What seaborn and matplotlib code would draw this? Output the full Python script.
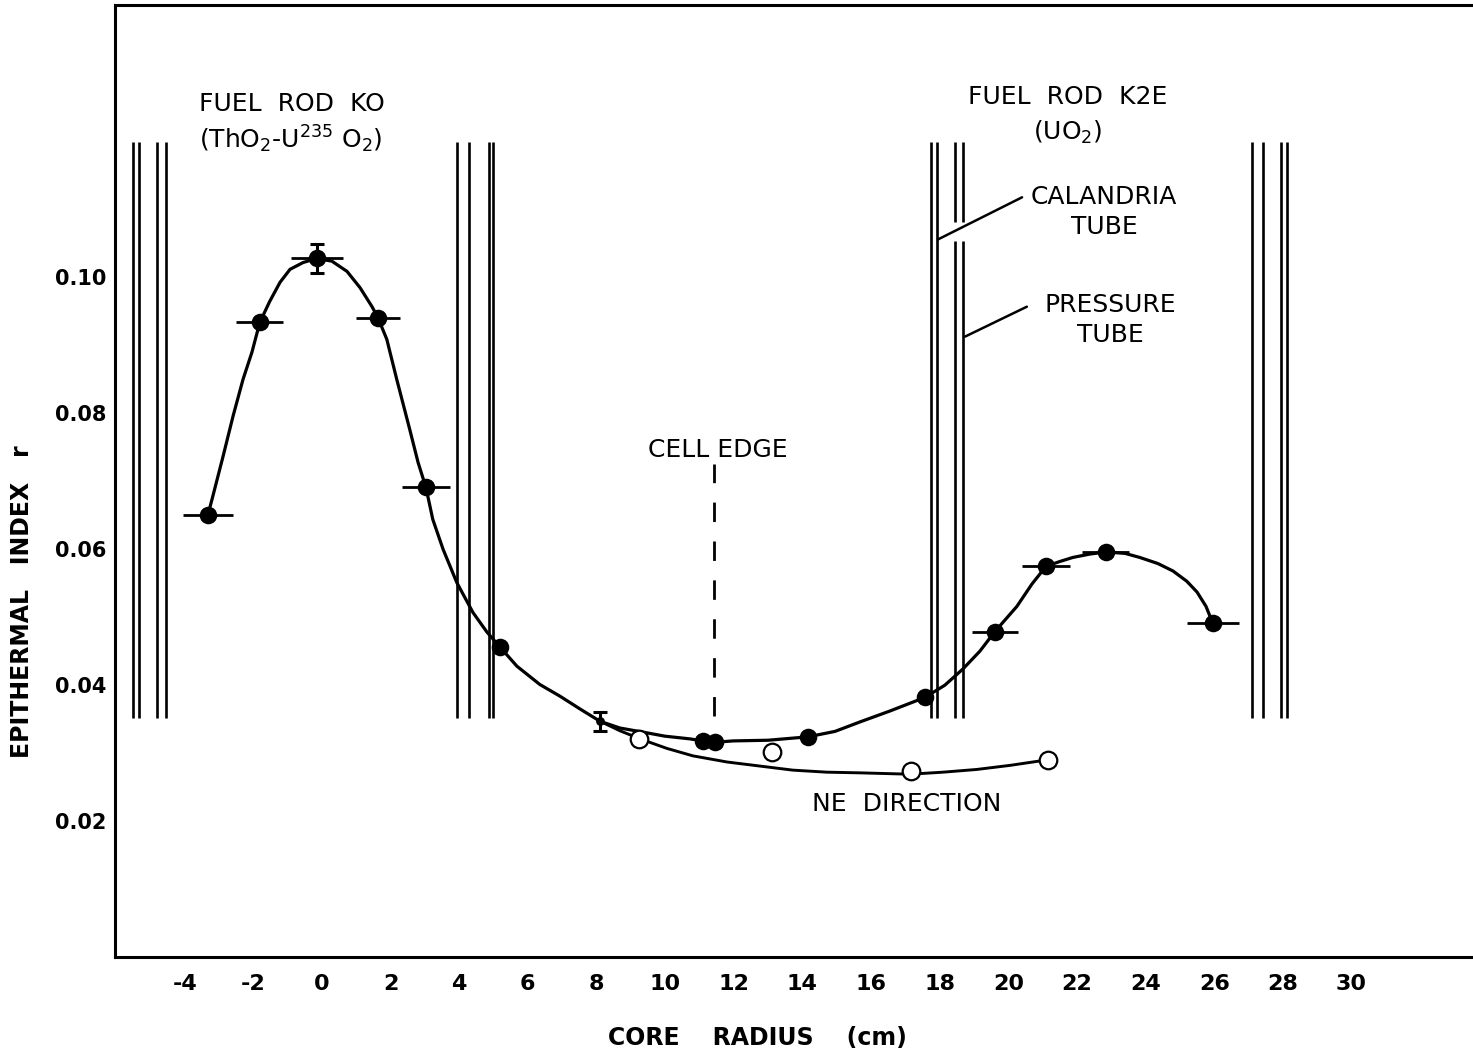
import matplotlib
matplotlib.use("Agg")
import matplotlib.pyplot as plt
import seaborn as sns
import pandas as pd

# ---------------- data ----------------
# filled points (measured, main traverse)
meas_x = [-3.32, -1.81, -0.15, 1.63, 3.03, 5.19, 11.10, 11.45, 14.16, 17.57, 19.61, 21.10, 22.84, 25.96]
meas_y = [0.0651, 0.0934, 0.1028, 0.0941, 0.0691, 0.0456, 0.0318, 0.0316, 0.0324, 0.0382, 0.0479, 0.0575, 0.0596, 0.0491]
# horizontal error bars (half widths, cm)
hbar_x = [-3.32, -1.81, -0.15, 1.63, 3.03, 19.61, 21.10, 22.84, 25.96]
hbar_y = [0.0651, 0.0934, 0.1028, 0.0941, 0.0691, 0.0479, 0.0575, 0.0596, 0.0491]
hbar_err = [0.73, 0.68, 0.75, 0.65, 0.70, 0.67, 0.71, 0.68, 0.75]
# vertical error bars
vbar_x = [-0.15, 8.10]
vbar_y = [0.1028, 0.0347]
vbar_err = [0.0022, 0.0014]
# small point with error bar
small_x = [8.10]
small_y = [0.0347]
# open points (NE direction)
ne_x = [9.24, 13.11, 17.16, 21.15]
ne_y = [0.0321, 0.0301, 0.0274, 0.0290]

curve_x = [-3.32, -3.18, -2.88, -2.59, -2.30, -2.04, -1.81, -1.52, -1.22, -0.93, -0.55, -0.15,
           0.29, 0.73, 1.11, 1.46, 1.63, 1.89, 2.18, 2.56, 2.80, 3.03, 3.23, 3.53, 3.93, 4.40,
           4.81, 5.19, 5.68, 6.35, 6.93, 7.52, 8.10, 8.68, 9.35, 9.99, 10.72, 11.10, 11.45,
           11.98, 13.00, 14.16, 14.95, 15.68, 16.55, 17.57, 18.15, 18.68, 19.17, 19.61, 20.25,
           20.69, 21.10, 21.50, 21.88, 22.38, 22.84, 23.40, 23.83, 24.36, 24.80, 25.20, 25.50,
           25.76, 25.96]
curve_y = [0.0651, 0.0678, 0.0737, 0.0796, 0.0850, 0.0890, 0.0934, 0.0965, 0.0993, 0.1012,
           0.1022, 0.1028, 0.1024, 0.1009, 0.0985, 0.0957, 0.0941, 0.0909, 0.0850, 0.0776,
           0.0728, 0.0691, 0.0644, 0.0600, 0.0551, 0.0507, 0.0478, 0.0456, 0.0428, 0.0401,
           0.0384, 0.0365, 0.0347, 0.0337, 0.0331, 0.0325, 0.0321, 0.0318, 0.0316, 0.0318,
           0.0319, 0.0324, 0.0332, 0.0346, 0.0362, 0.0382, 0.0400, 0.0424, 0.0450, 0.0479,
           0.0516, 0.0549, 0.0575, 0.0582, 0.0588, 0.0593, 0.0596, 0.0594, 0.0588, 0.0579,
           0.0568, 0.0553, 0.0537, 0.0516, 0.0491]
# NE direction curve (traced)
ne_curve_x = [8.10, 8.68, 9.27, 10.05, 10.81, 11.80, 12.76, 13.72, 14.71, 15.68, 17.13, 18.10,
              19.08, 20.05, 21.12]
ne_curve_y = [0.0347, 0.0333, 0.0321, 0.0307, 0.0296, 0.0287, 0.0281, 0.0275, 0.0272, 0.0271,
              0.0269, 0.0272, 0.0276, 0.0282, 0.0290]

# tube walls (radial positions, cm)
tube_walls_ko = [-5.51, -5.33, -4.81, -4.55, 3.93, 4.28, 4.87, 4.98]
tube_walls_k2e_outer = [17.74, 17.92, 27.10, 27.42, 27.94, 28.12]
tube_walls_k2e_inner = [18.44, 18.68]
tube_bottom, tube_top = 0.0351, 0.1200
gap_low, gap_high = 0.1053, 0.1082

cell_edge_x = 11.42

x_ticks = list(range(-4, 31, 2))
x_tick_labels = [str(v) for v in x_ticks]
y_ticks = [0.01, 0.02, 0.03, 0.04, 0.05, 0.06, 0.07, 0.08, 0.09, 0.10, 0.11]
y_tick_labels = ["", "0.02", "", "0.04", "", "0.06", "", "0.08", "", "0.10", ""]

# ---------------- figure ----------------
sns.set_style("white")
plt.rcParams["font.family"] = ["DejaVu Sans"]
plt.rcParams["mathtext.default"] = "regular"
plt.rcParams["text.color"] = "black"
plt.rcParams["axes.labelcolor"] = "black"
plt.rcParams["xtick.color"] = "black"
plt.rcParams["ytick.color"] = "black"

fig = plt.figure(figsize=(14.73, 10.54), dpi=100)
ax = fig.add_axes([115 / 1473, 97 / 1054, 1 - 115 / 1473, (957 - 5) / 1054])
ax.set_xlim(-6.03, 33.54)
ax.set_ylim(0.0, 0.1401)

lw_tube = 1.9
for xv in tube_walls_ko + tube_walls_k2e_outer:
    ax.plot([xv, xv], [tube_bottom, tube_top], color="black", lw=lw_tube, solid_capstyle="butt")
for xv in tube_walls_k2e_inner:
    ax.plot([xv, xv], [tube_bottom, gap_low], color="black", lw=lw_tube, solid_capstyle="butt")
    ax.plot([xv, xv], [gap_high, tube_top], color="black", lw=lw_tube, solid_capstyle="butt")

# curves
sns.lineplot(data=pd.DataFrame({"x": curve_x, "y": curve_y}), x="x", y="y", sort=False,
             color="black", lw=2.3, ax=ax, estimator=None)
sns.lineplot(data=pd.DataFrame({"x": ne_curve_x, "y": ne_curve_y}), x="x", y="y", sort=False,
             color="black", lw=2.1, ax=ax, estimator=None)

# error bars
ax.errorbar(hbar_x, hbar_y, xerr=hbar_err, fmt="none", ecolor="black", elinewidth=2.0, capsize=0)
ax.errorbar(vbar_x, vbar_y, yerr=vbar_err, fmt="none", ecolor="black", elinewidth=2.2,
            capsize=5, capthick=2.2)

# markers
sns.scatterplot(x=meas_x, y=meas_y, color="black", s=160, edgecolor="black", linewidth=0,
                ax=ax, zorder=5)
sns.scatterplot(x=small_x, y=small_y, color="black", s=40, edgecolor="black", linewidth=0,
                ax=ax, zorder=5)
sns.scatterplot(x=ne_x, y=ne_y, facecolor="white", s=160, edgecolor="black", linewidth=1.6,
                ax=ax, zorder=5)

# cell edge
ax.plot([cell_edge_x, cell_edge_x], [0.0354, 0.0725], color="black", lw=2.0,
        dashes=(7, 7))

# annotations
tk = dict(ha="center", va="center", fontsize=18, color="black")
ax.text(-0.87, 0.1256, "FUEL  ROD  KO", **tk)
ax.text(-0.90, 0.1203, "(ThO$_2$-U$^{235}$ O$_2$)", **tk)
ax.text(21.74, 0.1266, "FUEL  ROD  K2E", **tk)
ax.text(21.74, 0.1213, "(UO$_2$)", **tk)
ax.text(22.79, 0.1119, "CALANDRIA", **tk)
ax.text(22.79, 0.1075, "TUBE", **tk)
ax.text(22.96, 0.0959, "PRESSURE", **tk)
ax.text(22.96, 0.0915, "TUBE", **tk)
ax.text(11.54, 0.0746, "CELL EDGE", **tk)
ax.text(17.05, 0.0225, "NE  DIRECTION", **tk)
ax.plot([17.95, 20.40], [0.1056, 0.1118], color="black", lw=1.8)
ax.plot([18.74, 20.54], [0.0913, 0.0957], color="black", lw=1.8)

# axes styling
ax.set_xticks(x_ticks)
ax.set_xticklabels(x_tick_labels, fontsize=16, fontweight="bold", color="black")
ax.set_yticks(y_ticks)
ax.set_yticklabels(y_tick_labels, fontsize=15, fontweight="bold", color="black")
ax.tick_params(axis="x", direction="in", length=5, width=1.8, pad=12)
ax.tick_params(axis="y", direction="in", length=10, width=2.0, pad=6)
ax.set_xlabel("CORE    RADIUS    (cm)", fontsize=17, fontweight="bold", color="black")
ax.set_ylabel("EPITHERMAL   INDEX   r", fontsize=17, fontweight="bold", color="black")
ax.xaxis.set_label_coords((757 - 115) / 1358, -(1038 - 957) / 952)
ax.yaxis.set_label_coords((22 - 115) / 1358, (957 - 602) / 952)
ax.xaxis.label.set_va("center")
ax.yaxis.label.set_va("center")
for side in ["left", "bottom", "top"]:
    ax.spines[side].set_visible(True)
    ax.spines[side].set_linewidth(2.2)
    ax.spines[side].set_color("black")
ax.spines["right"].set_visible(False)
ax.grid(False)

fig.savefig("out.png", dpi=100)
